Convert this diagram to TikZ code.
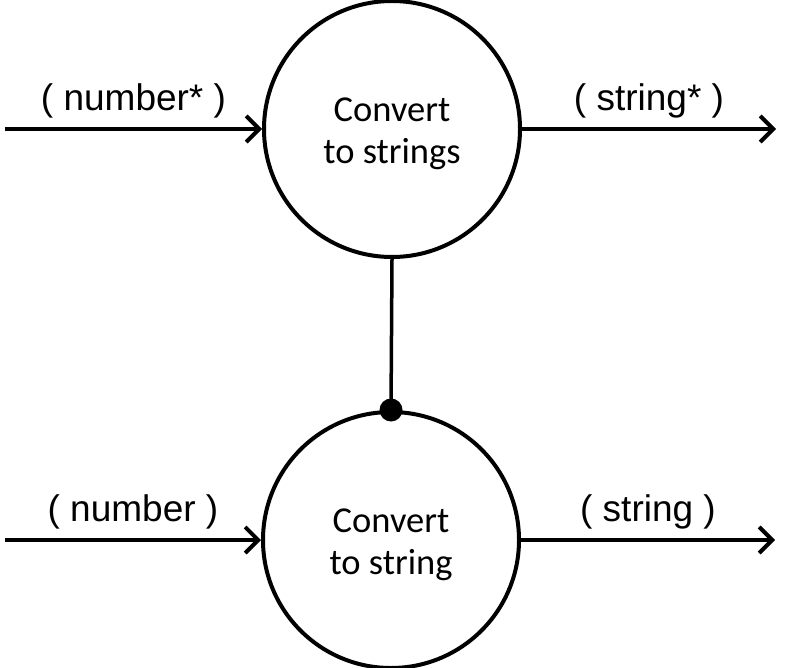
\documentclass[tikz,border=0pt]{standalone}
\usepackage{fontspec}
\setmainfont{Carlito}
\newfontfamily\arialfont{Liberation Sans}
\usetikzlibrary{arrows.meta}
\tikzset{
    proc/.style={draw, circle, line width=4pt, minimum size=256pt, inner sep=0pt,
      align=center, font=\fontsize{36.5}{42}\selectfont},
    flow/.style={line width=4pt, -{Straight Barb[length=13pt, width=26pt, line width=4pt]}},
    lbl/.style={above=9pt, inner sep=0pt, font=\arialfont\fontsize{37}{44}\selectfont},
    dot/.style={fill=black, circle, inner sep=0pt, minimum size=23pt}
}
\begin{document}
\begin{tikzpicture}[x=1pt, y=-1pt]
          \useasboundingbox (0,0) rectangle (794,668);
          \node [proc] (strs) at (392,129) {\rule{0pt}{34pt}Convert\\to strings};
          \node [proc] (str) at (391,540) {\rule{0pt}{34pt}Convert\\to string};
          \coordinate (in1) at (5,129);
          \coordinate (out1) at (776,129);
          \coordinate (in2) at (5,540);
          \coordinate (out2) at (775,540);
          \draw [flow] (in1) -- node [lbl] {( number* )} (strs);
          \draw [flow] (strs) -- node [lbl] {( string* )} (out1);
          \draw [flow] (in2) -- node [lbl] {( number )} (str);
          \draw [flow] (str) -- node [lbl] {( string )} (out2);
          \draw [line width=3.5pt] (strs.south) -- (str.north);
          \node [dot] (joint) at (str.north) {};
        \end{tikzpicture}
\end{document}
